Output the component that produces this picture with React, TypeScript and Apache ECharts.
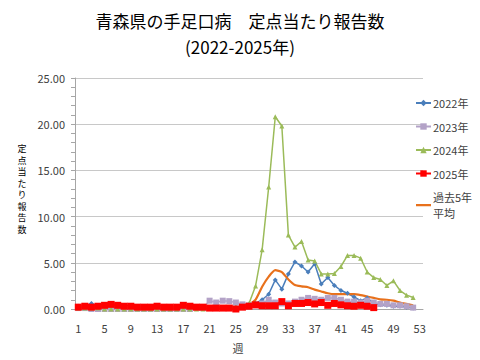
import React, { useEffect, useRef } from "react";
import * as echarts from "echarts";

const weeks: string[] = Array.from({ length: 53 }, (_, i) => String(i + 1));

const y2022: number[] = [
  0.3, 0.3, 0.6, 0.3, 0.2, 0.2, 0.1, 0.1, 0.1, 0.1, 0.1, 0.1, 0.1, 0.1, 0.1, 0.1, 0.1, 0.1, 0.1, 0.1,
  0.1, 0.1, 0.1, 0.1, 0.2, 0.2, 0.3, 0.6, 1.0, 1.6, 3.15, 2.15, 3.8, 5.1, 4.65, 4.0, 4.9, 2.7, 3.4, 2.55,
  2.0, 1.7, 1.3, 0.9, 1.2, 0.6, 0.45, 0.4, 0.3, 0.3, 0.2, 0.1,
];

const y2023: number[] = [
  0.1, 0.1, 0.0, 0.0, 0.0, 0.0, 0.0, 0.0, 0.0, 0.0, 0.0, 0.0, 0.0, 0.0, 0.0, 0.0, 0.0, 0.0, 0.1, 0.1,
  0.9, 0.7, 0.9, 0.85, 0.7, 0.5, 0.4, 0.4, 0.6, 1.0, 0.7, 0.6, 0.6, 0.8, 1.0, 1.2, 1.1, 1.0, 1.2, 1.2,
  1.0, 0.8, 0.8, 0.7, 0.9, 0.7, 0.55, 0.55, 0.4, 0.4, 0.3, 0.15,
];

const y2024: number[] = [
  0.1, 0.1, 0.1, 0.1, 0.0, 0.0, 0.0, 0.0, 0.0, 0.0, 0.0, 0.0, 0.0, 0.0, 0.0, 0.0, 0.0, 0.0, 0.0, 0.0,
  0.1, 0.1, 0.1, 0.2, 0.2, 0.3, 0.6, 2.5, 6.4, 13.2, 20.8, 19.8, 8.0, 6.7, 7.3, 5.3, 5.2, 3.8, 3.8, 3.85,
  4.6, 5.8, 5.8, 5.5, 4.0, 3.4, 3.2, 2.55, 3.05, 2.0, 1.5, 1.25,
];

const y2025: number[] = [
  0.2, 0.3, 0.2, 0.3, 0.4, 0.5, 0.4, 0.3, 0.3, 0.2, 0.2, 0.2, 0.3, 0.2, 0.2, 0.2, 0.4, 0.3, 0.2, 0.2,
  0.1, 0.1, 0.1, 0.1, 0.0, 0.2, 0.3, 0.45, 0.35, 0.35, 0.35, 0.8, 0.35, 0.6, 0.6, 0.7, 0.55, 0.7, 0.4, 0.6,
  0.45, 0.35, 0.3, 0.4, 0.3, 0.15,
];

const avg5: number[] = [
  0.3, 0.3, 0.3, 0.3, 0.3, 0.3, 0.2, 0.2, 0.2, 0.2, 0.2, 0.2, 0.2, 0.2, 0.2, 0.2, 0.2, 0.2, 0.2, 0.2,
  0.2, 0.2, 0.2, 0.2, 0.2, 0.3, 0.5, 1.0, 2.4, 3.5, 4.2, 4.0, 3.2, 2.6, 2.45, 2.35, 2.1, 1.9, 1.7, 1.6,
  1.6, 1.6, 1.6, 1.5, 1.35, 1.2, 1.05, 1.0, 0.9, 0.7, 0.55, 0.4,
];

const yTicks: number[] = [0, 5, 10, 15, 20, 25];
const yAxisTitle = "定点当たり報告数";

const FONT = "'Noto Sans CJK JP', 'Noto Sans', sans-serif";
const LINE_ICON = "path://M0,0L0.01,0L0.01,0.01Z M0,3L16,3L16,5.2L0,5.2Z M0,7.99L0.01,7.99L0.01,8Z";

export default function App() {
  const ref = useRef<HTMLDivElement>(null);
  useEffect(() => {
    document.body.style.margin = "0";
    if (!ref.current) return;
    const chart = echarts.init(ref.current, undefined, { renderer: "svg" });
    const textStyle = { fontFamily: FONT, color: "#404040", fontSize: 11 };
    const chars = yAxisTitle.split("");
    const step = 11.5;
    const startY = 189 - ((chars.length - 1) * step) / 2;
    const verticalTitle = chars.map((c, i) => ({
      type: "text",
      x: 22,
      y: startY + i * step,
      style: {
        text: c,
        fontFamily: FONT,
        fontSize: 9,
        fill: "#000000",
        align: "center",
        verticalAlign: "middle",
      },
    }));
    chart.setOption({
      animation: false,
      backgroundColor: "#ffffff",
      textStyle: { fontFamily: FONT },
      title: [
        {
          text: "青森県の手足口病　定点当たり報告数",
          left: "center",
          top: 7,
          textStyle: { fontFamily: FONT, fontSize: 17, fontWeight: "normal", color: "#000000" },
        },
        {
          text: "(2022-2025年)",
          left: "center",
          top: 33,
          textStyle: { fontFamily: FONT, fontSize: 17, fontWeight: "normal", color: "#000000" },
        },
      ],
      legend: {
        orient: "vertical",
        left: 415,
        top: 95,
        padding: 0,
        itemWidth: 15,
        itemHeight: 8,
        itemGap: 7.5,
        textStyle: { ...textStyle, lineHeight: 16, padding: [0, 0, 0, -3] },
        formatter: (n: string) => (n === "過去5年平均" ? "過去5年\n平均" : n),
        data: [
          "2022年",
          "2023年",
          "2024年",
          "2025年",
          { name: "過去5年平均", icon: LINE_ICON },
        ],
      },
      grid: { left: 75, right: 57, top: 78, bottom: 51 },
      xAxis: {
        type: "category",
        data: weeks,
        boundaryGap: true,
        axisLine: { lineStyle: { color: "#A6A6A6" } },
        axisTick: { interval: 3, length: 4, lineStyle: { color: "#A6A6A6" } },
        axisLabel: { ...textStyle, interval: 3, margin: 13 },
      },
      yAxis: {
        type: "value",
        min: yTicks[0],
        max: yTicks[yTicks.length - 1],
        interval: 5,
        axisLine: { show: true, lineStyle: { color: "#A6A6A6" } },
        axisTick: { show: true, length: 4, lineStyle: { color: "#A6A6A6" } },
        minorTick: { show: true, splitNumber: 5, length: 4, lineStyle: { color: "#A6A6A6" } },
        splitLine: { lineStyle: { color: "#C8C8C8", width: 1 } },
        axisLabel: { ...textStyle, margin: 10, formatter: (v: number) => v.toFixed(2) },
      },
      graphic: [
        ...verticalTitle,
        {
          type: "text",
          x: 238,
          y: 348,
          style: {
            text: "週",
            fontFamily: FONT,
            fontSize: 11,
            fill: "#404040",
            align: "center",
            verticalAlign: "middle",
          },
        },
      ],
      series: [
        {
          name: "2022年",
          type: "line",
          data: y2022,
          color: "#4A7EBB",
          lineStyle: { width: 1.5 },
          symbol: "diamond",
          symbolSize: 5,
          showAllSymbol: true,
        },
        {
          name: "2023年",
          type: "line",
          data: y2023,
          color: "#B3A2C7",
          lineStyle: { width: 1.5 },
          symbol: "rect",
          symbolSize: 6,
          showAllSymbol: true,
        },
        {
          name: "2024年",
          type: "line",
          data: y2024,
          color: "#9BBB59",
          lineStyle: { width: 1.5 },
          symbol: "triangle",
          symbolSize: 5,
          showAllSymbol: true,
        },
        {
          name: "2025年",
          type: "line",
          data: y2025,
          color: "#FF0000",
          lineStyle: { width: 3 },
          symbol: "rect",
          symbolSize: 7,
          showAllSymbol: true,
        },
        {
          name: "過去5年平均",
          type: "line",
          data: avg5,
          color: "#E8711C",
          lineStyle: { width: 2.2 },
          symbol: "none",
          smooth: 0.2,
        },
      ],
    });
    return () => chart.dispose();
  }, []);
  return <div ref={ref} style={{ width: 480, height: 360 }} />;
}
